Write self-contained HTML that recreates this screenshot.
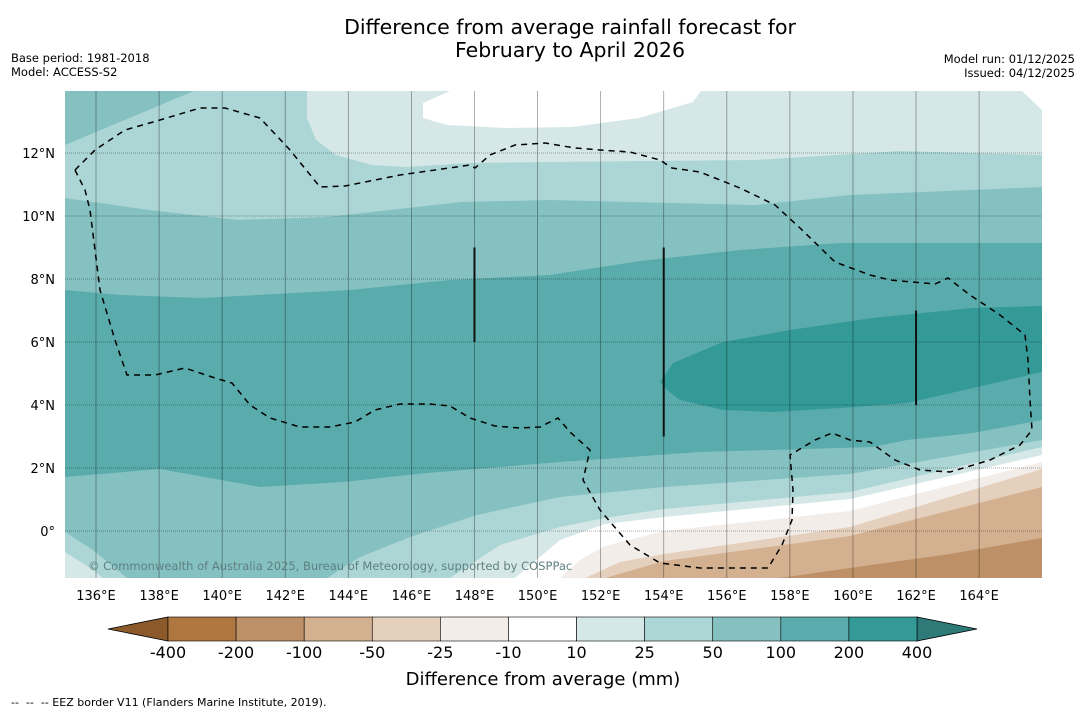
<!DOCTYPE html>
<html><head><meta charset="utf-8"><style>
body{margin:0;background:#fff;font-family:"DejaVu Sans","Liberation Sans",sans-serif}
svg text{font-family:"DejaVu Sans","Liberation Sans",sans-serif}
</style></head><body>
<svg id="c" width="1085" height="713" viewBox="0 0 1085 713" xmlns="http://www.w3.org/2000/svg">
<text x="570" y="34" font-size="20.5" text-anchor="middle">Difference from average rainfall forecast for</text>
<text x="570" y="57" font-size="20.5" text-anchor="middle">February to April 2026</text>
<text x="11" y="62" font-size="11.5">Base period: 1981-2018</text>
<text x="11" y="76" font-size="11.5">Model: ACCESS-S2</text>
<text x="1075" y="63" font-size="11.5" text-anchor="end">Model run: 01/12/2025</text>
<text x="1075" y="77" font-size="11.5" text-anchor="end">Issued: 04/12/2025</text>
<defs><clipPath id="pc"><rect x="65" y="91" width="977" height="487"/></clipPath></defs>
<g id="map" clip-path="url(#pc)"></g>
<g id="axes"></g>
<g id="cbar"></g>
<text x="543" y="685" font-size="18" text-anchor="middle">Difference from average (mm)</text>
<text x="11" y="706" font-size="11" xml:space="preserve">--  --  -- EEZ border V11 (Flanders Marine Institute, 2019).</text>
</svg>
<script>
const lonTicks=[136,138,140,142,144,146,148,150,152,154,156,158,160,162,164];
const latTicks=[0,2,4,6,8,10,12];
const cbLevels=["-400","-200","-100","-50","-25","-10","10","25","50","100","200","400"];
const cbColors=["#ae7740","#be9067","#d3b08f","#e5d0bd","#f3ede9","#ffffff","#d5e8e7","#acd6d5","#85c1c0","#5aabab","#339a97"];
const cbEnds=["#8c5a2a","#2d7a78"];
const X=lon=>96+(lon-136)*31.54;
const Y=lat=>531-lat*31.5;
const NS="http://www.w3.org/2000/svg";
function mk(tag,attrs,parent){const e=document.createElementNS(NS,tag);for(const k in attrs)e.setAttribute(k,attrs[k]);parent.appendChild(e);return e;}
const map=document.getElementById('map');
const P=a=>a.map(p=>p.join(',')).join(' ');
const bands=[
 ["band-50-base","#85c1c0",[[65,91],[1042,91],[1042,578],[65,578]]],
 ["band-25-north","#acd6d5",[[65,145],[194,91],[1042,91],[1042,187],[850,195],[755,205],[550,200],[461,202],[327,217],[238,220],[149,210],[65,198]]],
 ["band-10-north","#d5e8e7",[[307,91],[307,118],[316,140],[336,155],[372,165],[407,167],[470,163],[550,162],[755,160],[900,151],[1042,155],[1042,91]]],
 ["band-neg10-north","#ffffff",[[423,103],[423,118],[447,125],[505,128],[572,127],[639,118],[693,102],[701,91],[450,91]]],
 ["band-neg10-ne","#ffffff",[[1022,91],[1042,110],[1042,91]]],
 ["band-100","#5aabab",[[65,290],[120,295],[200,298],[350,290],[450,280],[550,275],[640,261],[740,250],[840,243],[1042,243],[1042,420],[973,433],[907,440],[873,447],[700,452],[560,462],[427,473],[343,482],[260,487],[160,469],[65,477]]],
 ["band-200","#339a97",[[660,382],[673,363],[723,342],[790,330],[873,318],[973,308],[1042,306],[1042,372],[973,388],[907,403],[840,408],[773,412],[723,410],[680,400],[667,390]]],
 ["band-25-south","#acd6d5",[[327,578],[360,557],[410,537],[477,515],[560,497],[664,487],[850,474],[1042,440],[1042,578]]],
 ["band-25-sw","#acd6d5",[[65,532],[93,550],[127,578],[65,578]]],
 ["band-10-south","#d5e8e7",[[450,578],[500,545],[560,527],[605,518],[664,509],[850,492],[1042,447],[1042,578]]],
 ["band-10-sw","#d5e8e7",[[65,552],[93,570],[103,578],[65,578]]],
 ["band-neg10","#ffffff",[[515,578],[560,540],[605,524],[664,517],[850,499],[1042,455],[1042,578]]],
 ["band-neg25","#f3ede9",[[560,578],[580,560],[605,546],[664,531],[850,511],[1042,462],[1042,578]]],
 ["band-neg50","#e5d0bd",[[585,578],[620,562],[664,554],[850,527],[1042,469],[1042,578]]],
 ["band-neg100","#d3b08f",[[605,578],[640,568],[664,561],[850,536],[1042,487],[1042,578]]],
 ["band-neg200","#be9067",[[780,578],[850,568],[950,554],[1042,538],[1042,578]]]
];
bands.forEach(b=>{const e=mk('polygon',{points:P(b[2]),fill:b[1]},map);

});
lonTicks.forEach(l=>{const e=mk('line',{x1:X(l),x2:X(l),y1:91,y2:578,stroke:'rgba(0,0,0,0.4)','stroke-width':0.8},map);

});
latTicks.forEach(l=>{const e=mk('line',{x1:65,x2:1042,y1:Y(l),y2:Y(l),stroke:'rgba(0,0,0,0.45)','stroke-width':0.8,'stroke-dasharray':'1,1'},map);

});
const eez=[[75,170],[95,150],[125,130],[160,120],[200,108],[225,108],[260,118],[290,150],[320,187],[345,186],[400,175],[470,165],[475,168],[490,155],[515,145],[545,143],[575,148],[600,150],[630,152],[660,160],[672,168],[700,172],[740,188],[775,205],[800,228],[835,262],[870,275],[890,280],[935,284],[948,278],[970,295],[1000,315],[1025,335],[1028,360],[1030,400],[1032,430],[1020,445],[990,460],[950,472],[920,470],[895,460],[870,442],[850,440],[832,433],[815,440],[790,455],[793,490],[792,520],[782,545],[768,568],[700,568],[660,563],[630,545],[600,510],[583,480],[590,450],[570,432],[558,418],[540,427],[520,428],[495,426],[470,418],[450,406],[430,404],[400,404],[375,410],[355,422],[330,427],[300,427],[270,418],[250,405],[232,383],[215,378],[185,368],[155,375],[127,375],[115,340],[100,290],[95,250],[90,210],[85,190],[75,170]];
const ez=mk('polyline',{points:P(eez),fill:'none',stroke:'#000','stroke-width':1.5,'stroke-dasharray':'6,5'},map);


[[148,9,6],[154,9,3],[162,7,4]].forEach((s,i)=>{const e=mk('line',{x1:X(s[0]),x2:X(s[0]),y1:Y(s[1]),y2:Y(s[2]),stroke:'#111','stroke-width':2},map);

});
const cp=mk('text',{x:88,y:570,'font-size':11.5,fill:'#5f7f80'},map);cp.textContent='© Commonwealth of Australia 2025, Bureau of Meteorology, supported by COSPPac';


const ax=document.getElementById('axes');
lonTicks.forEach(l=>{const t=mk('text',{x:X(l),y:600,'font-size':13,'text-anchor':'middle'},ax);t.textContent=l+'°E';

});
latTicks.forEach(l=>{const t=mk('text',{x:55,y:Y(l)+5,'font-size':13,'text-anchor':'end'},ax);t.textContent=l===0?'0°':l+'°N';

});
const cb=document.getElementById('cbar');
const cx0=168,cx1=917,cy0=617,cy1=641,w=(cx1-cx0)/cbColors.length;
const lt=mk('polygon',{points:P([[108,629],[cx0,cy0],[cx0,cy1]]),fill:cbEnds[0],stroke:'#000','stroke-width':0.8},cb);


const rt=mk('polygon',{points:P([[977,629],[cx1,cy0],[cx1,cy1]]),fill:cbEnds[1],stroke:'#000','stroke-width':0.8},cb);


cbColors.forEach((c,i)=>{const r=mk('rect',{x:cx0+i*w,y:cy0,width:w,height:cy1-cy0,fill:c,stroke:'#000','stroke-width':0.6},cb);

});
cbLevels.forEach((v,i)=>{const t=mk('text',{x:cx0+i*w,y:658,'font-size':16,'text-anchor':'middle'},cb);t.textContent=v;

});
</script>
</body></html>
